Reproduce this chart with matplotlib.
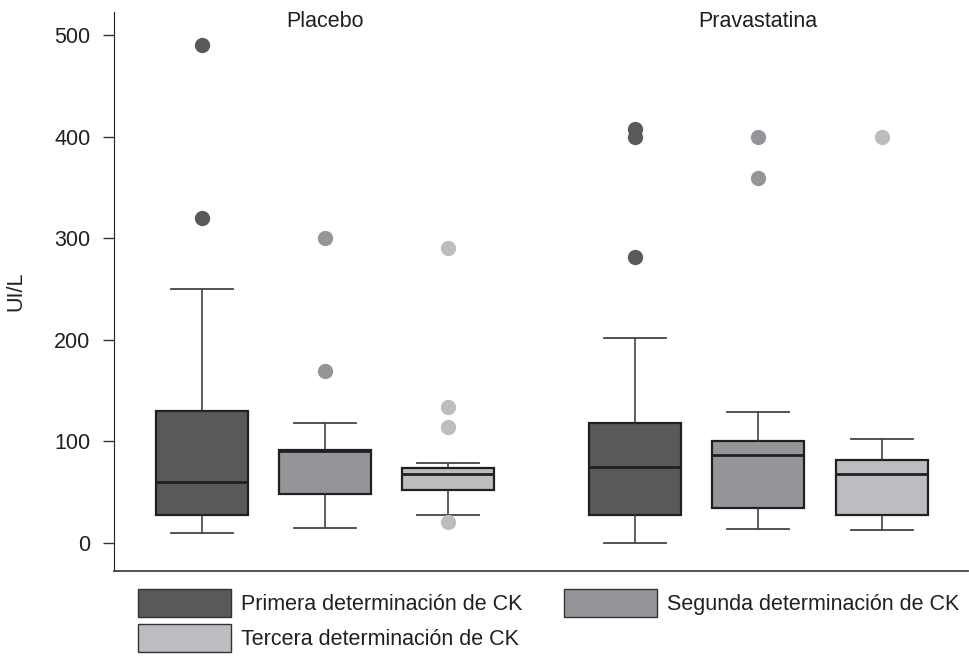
import matplotlib
matplotlib.use("Agg")
from matplotlib import pyplot as plt
from matplotlib.patches import Patch

plt.rcParams['font.family'] = ['Liberation Sans', 'DejaVu Sans']

# Summary statistics (UI/L)
groups = ["Placebo", "Pravastatina"]
series = ["Primera determinación de CK", "Segunda determinación de CK", "Tercera determinación de CK"]
colors = ["#58595b", "#939598", "#bcbdc0"]

# order: placebo 1,2,3 then pravastatina 1,2,3
whislo = [10, 14, 27, 0, 13, 12]
q1 = [27, 48, 52, 27, 34, 27]
med = [60, 90, 68, 75, 86, 68]
q3 = [130, 91, 74, 118, 100, 81]
whishi = [250, 118, 78, 202, 129, 102]
fliers = [[320, 490], [169, 300], [20, 114, 134, 290], [281, 400, 407], [359, 400], [400]]

positions = [1, 2, 3, 4.52, 5.52, 6.53]
tick_values = [0, 100, 200, 300, 400, 500]

fig = plt.figure(figsize=(9.7, 6.58), dpi=100)
ax = fig.add_axes([0.1175, 0.1322, 0.8804, 0.8495])

edge = "#231f20"
for i in range(6):
    st = [{"whislo": whislo[i], "q1": q1[i], "med": med[i], "q3": q3[i],
           "whishi": whishi[i], "fliers": fliers[i]}]
    c = colors[i % 3]
    ax.bxp(st, positions=[positions[i]], widths=0.75, capwidths=0.5,
           patch_artist=True, manage_ticks=False,
           boxprops=dict(facecolor=c, edgecolor=edge, linewidth=1.6),
           medianprops=dict(color=edge, linewidth=2),
           whiskerprops=dict(color="#333333", linewidth=1.1),
           capprops=dict(color="#444444", linewidth=1.3),
           flierprops=dict(marker="o", markerfacecolor=c, markeredgecolor="none",
                           markersize=11))

ax.set_xlim(0.2846, 7.228)
ax.set_ylim(-27.9, 522.6)
ax.set_yticks(tick_values)
ax.tick_params(axis="y", labelsize=15.5, length=8, width=1, color="#333333",
               pad=9, labelcolor="#231f20")
ax.set_xticks([])
ax.spines["top"].set_visible(False)
ax.spines["right"].set_visible(False)
ax.spines["left"].set_color("#222222")
ax.spines["bottom"].set_color("#444444")
ax.spines["bottom"].set_linewidth(1.3)
ax.set_ylabel("UI/L", fontsize=15.5, labelpad=20, color="#231f20")

ax.text(2, 508, groups[0], ha="center", va="baseline", fontsize=15.5, color="#231f20")
ax.text(5.52, 508, groups[1], ha="center", va="baseline", fontsize=15.5, color="#231f20")

handles = [Patch(facecolor=colors[0], edgecolor="#333333", label=series[0]),
           Patch(facecolor=colors[2], edgecolor="#333333", label=series[2]),
           Patch(facecolor=colors[1], edgecolor="#333333", label=series[1])]
leg = fig.legend(handles=handles, ncol=2, loc="upper left", bbox_to_anchor=(0.1423, 0.1049),
                 frameon=False, fontsize=15.5, handlelength=4.33, handleheight=1.62,
                 handletextpad=0.47, columnspacing=1.9, labelspacing=0.33,
                 borderaxespad=0, borderpad=0)
for t in leg.get_texts():
    t.set_color("#231f20")

fig.savefig("out.png", dpi=100)
